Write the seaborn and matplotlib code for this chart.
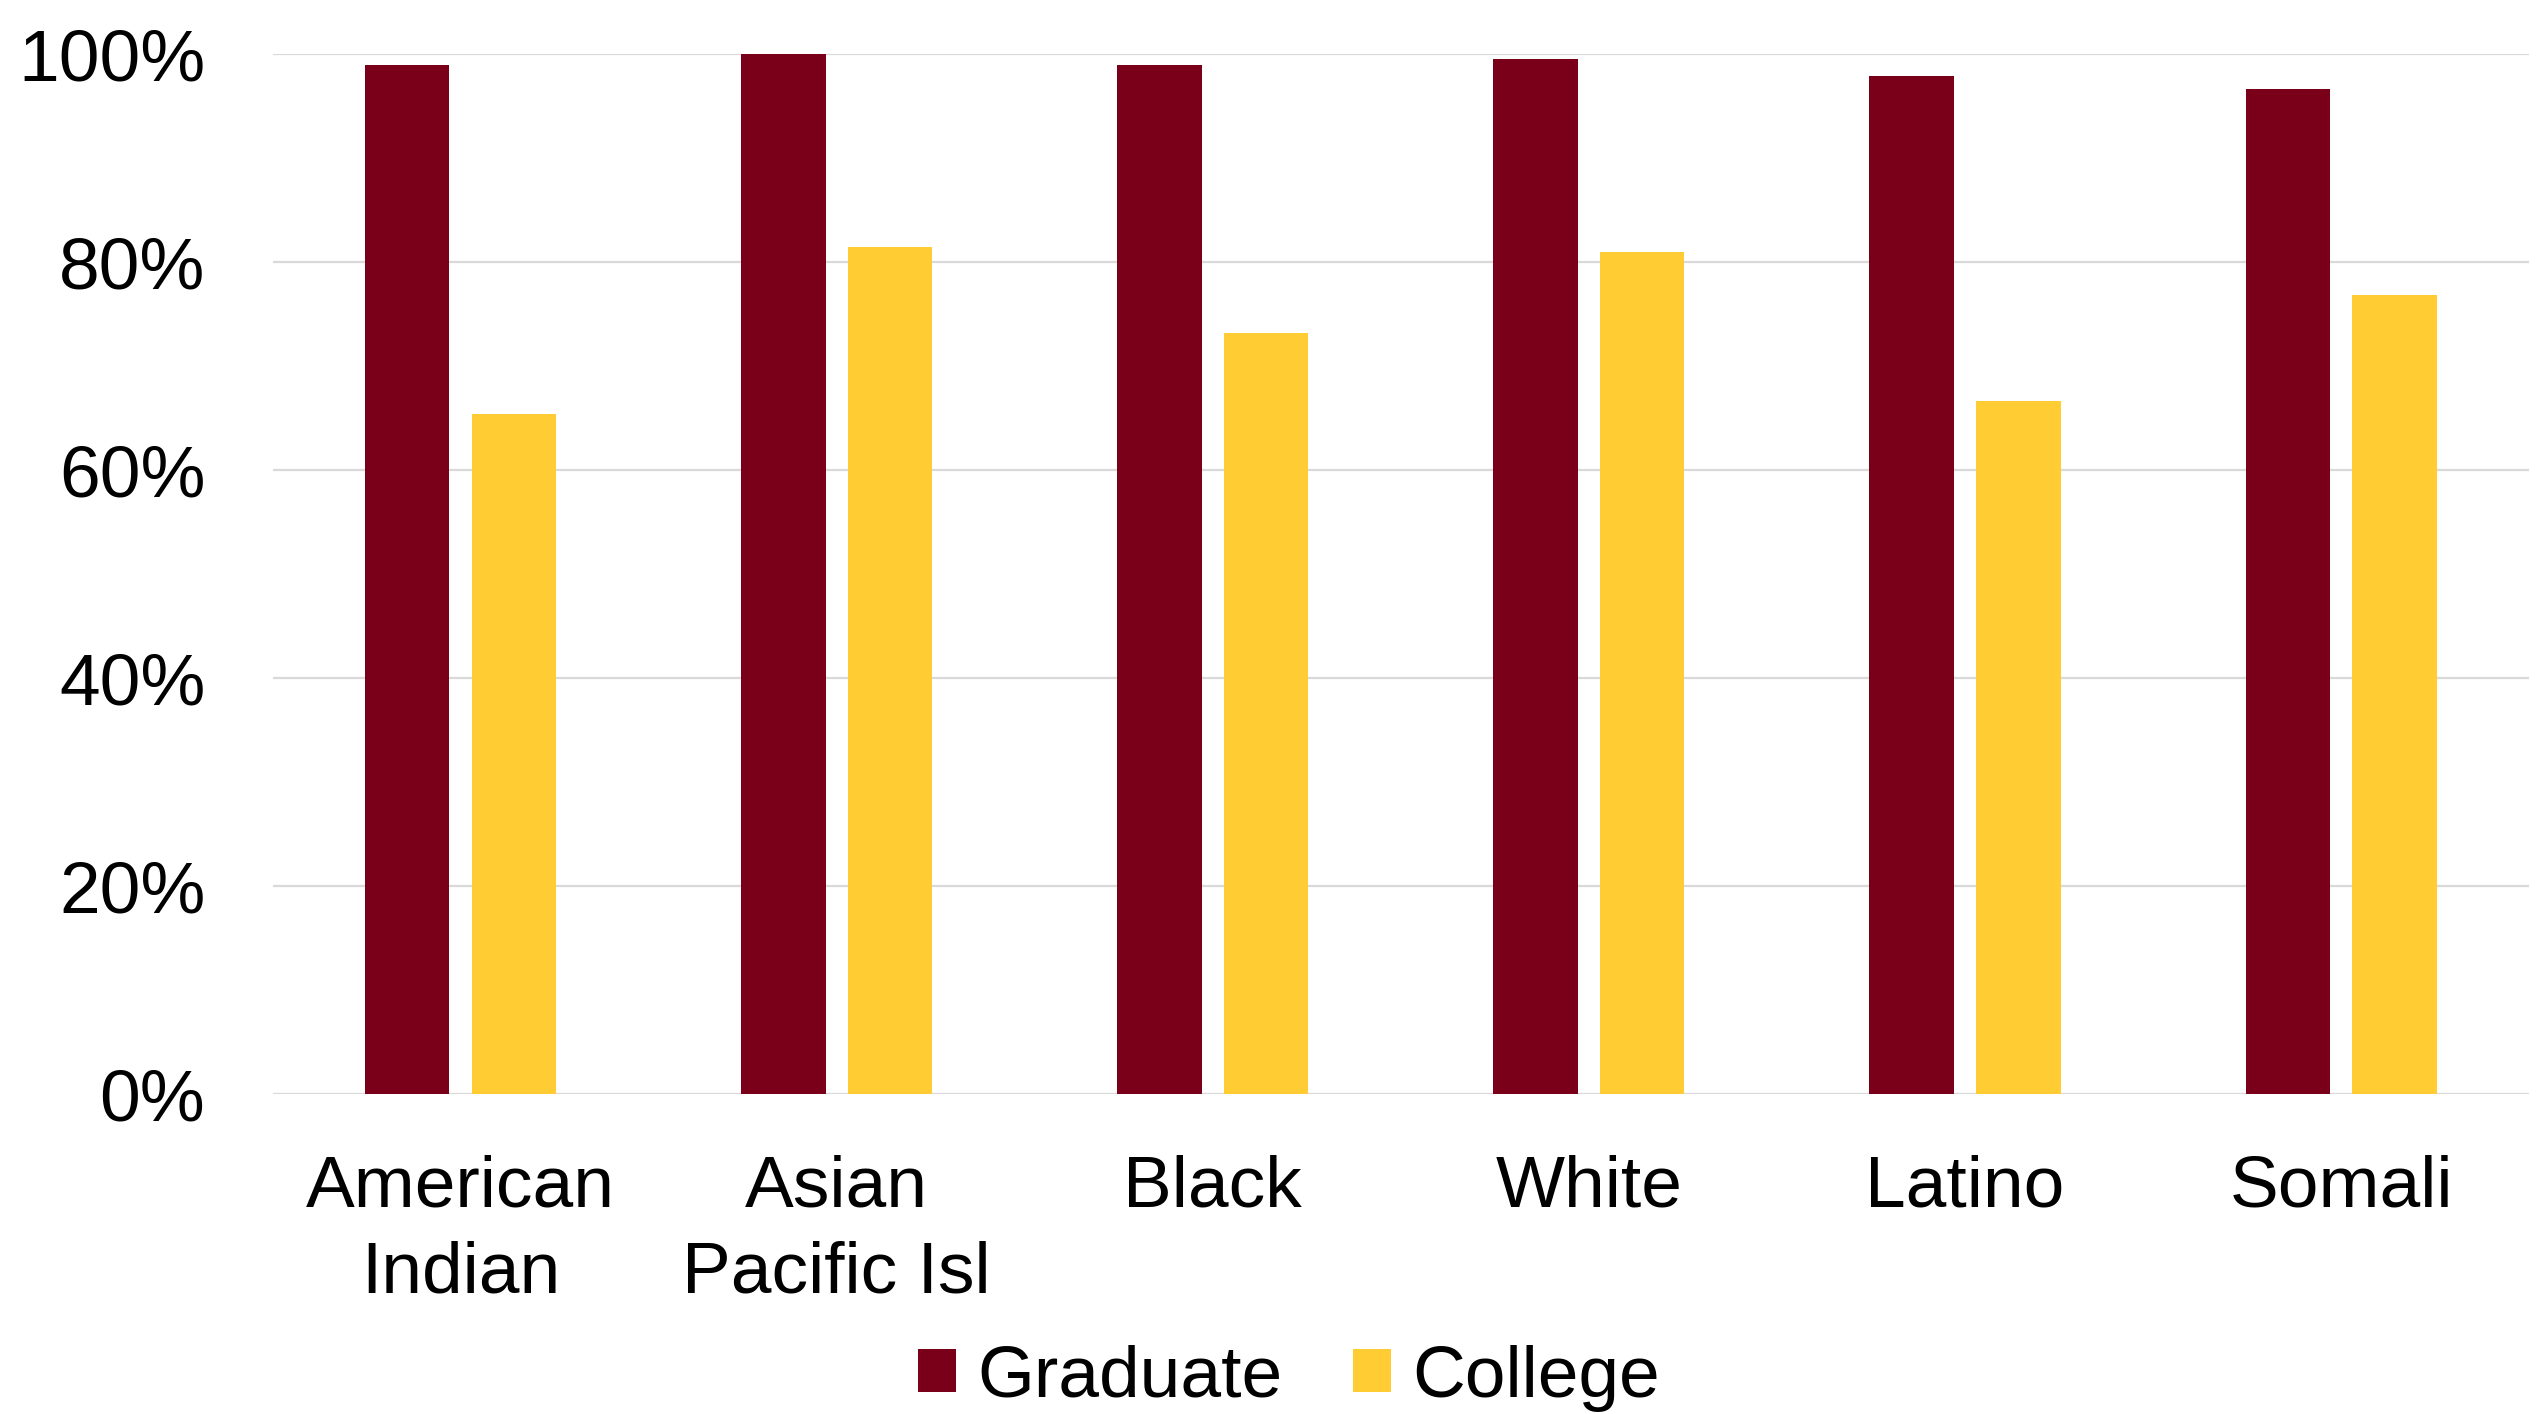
import matplotlib
matplotlib.use("Agg")
import matplotlib.pyplot as plt
from matplotlib.patches import Patch
from matplotlib.ticker import FuncFormatter
import seaborn as sns
import pandas as pd

# ---- data ----
categories = ["American\nIndian", "Asian\nPacific Isl", "Black", "White", "Latino", "Somali"]
series_names = ["Graduate", "College"]
graduate = [99.0, 100.0, 99.0, 99.6, 97.9, 96.7]
college = [65.4, 81.5, 73.2, 81.0, 66.7, 76.9]
y_ticks = [0, 20, 40, 60, 80, 100]

maroon = "#7A0019"
gold = "#FFCC33"
grid_color = "#D9D9D9"

df = pd.DataFrame({
    "group": categories * 2,
    "series": [series_names[0]] * len(categories) + [series_names[1]] * len(categories),
    "value": graduate + college,
})

sns.set_theme(style="white")
plt.rcParams["font.family"] = ["Liberation Sans", "DejaVu Sans"]
plt.rcParams["text.color"] = "black"

FS = 52.7
fig = plt.figure(figsize=(25.39, 14.14), dpi=100)
ax = fig.add_axes([0.1074, 0.2260, 0.9961 - 0.1074, 0.9615 - 0.2260])

sns.barplot(data=df, x="group", y="value", hue="series", order=categories,
            hue_order=series_names, palette=[maroon, gold], saturation=1,
            width=0.568, gap=0.211, errorbar=None, linewidth=0, ax=ax, legend=False)

ax.set_ylim(0, 100)
ax.set_xlim(-0.5, len(categories) - 0.5)
ax.set_yticks(y_ticks)
ax.yaxis.set_major_formatter(FuncFormatter(lambda v, p: f"{int(v)}%"))
ax.set_xlabel("")
ax.set_ylabel("")
for s in ax.spines.values():
    s.set_visible(False)
ax.yaxis.grid(True, color=grid_color, linewidth=1.6)
ax.xaxis.grid(False)
ax.set_axisbelow(True)
ax.tick_params(axis="y", length=0, labelsize=FS, pad=48.5, colors="black")
ax.tick_params(axis="x", length=0, labelsize=FS, pad=43, colors="black")
for lab in ax.get_xticklabels():
    lab.set_linespacing(1.37)

handles = [Patch(facecolor=maroon, edgecolor="none"), Patch(facecolor=gold, edgecolor="none")]
leg = fig.legend(handles, series_names, loc="center", ncol=2,
                 bbox_to_anchor=(1289 / 2539, 1 - 1378 / 1414), frameon=False,
                 fontsize=FS, handlelength=0.52, handleheight=0.52,
                 handletextpad=0.29, columnspacing=0.96, borderpad=0, borderaxespad=0)
for t in leg.get_texts():
    t.set_color("black")

fig.savefig("out.png", dpi=100, facecolor="white")
